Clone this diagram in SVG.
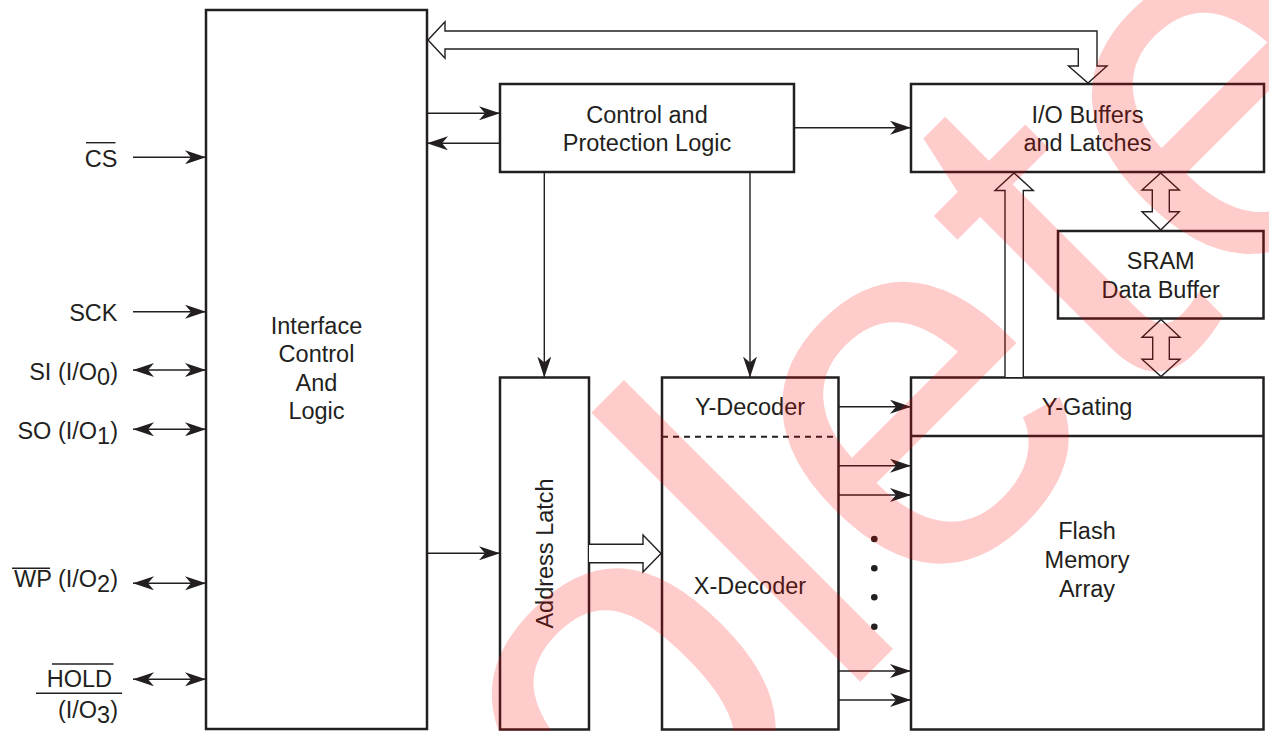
<svg xmlns="http://www.w3.org/2000/svg" width="1269" height="731" viewBox="0 0 1269 731">
<style>
.box{fill:#fff;stroke:#231f20;stroke-width:2.5}
.ln{fill:none;stroke:#231f20;stroke-width:1.4}
.arr{fill:none;stroke:#231f20;stroke-width:1.4;marker-end:url(#ah)}
.bi{fill:none;stroke:#231f20;stroke-width:1.4;marker-start:url(#ah);marker-end:url(#ah)}
.hol{fill:#fff;stroke:#231f20;stroke-width:1.4;stroke-linejoin:miter}
.t{font-family:"Liberation Sans",Arial,Helvetica,sans-serif;font-size:23.5px;fill:#231f20}
.c{text-anchor:middle}
.e{text-anchor:end}
.wm{font-family:"Liberation Sans",Arial,Helvetica,sans-serif;font-size:525px;fill:#ff0000;fill-opacity:0.2}
</style>
<defs>
<marker id="ah" viewBox="-21 -7 21 14" refX="0" refY="0" markerWidth="21" markerHeight="14" markerUnits="userSpaceOnUse" orient="auto-start-reverse">
<path d="M0,0 L-21,-7 L-15,0 L-21,7 Z" fill="#231f20"/>
</marker>
</defs>

<g id="interface">
<rect class="box" x="206" y="10" width="221" height="719"/>
<text class="t c" x="316.5" y="333.5">Interface</text>
<text class="t c" x="316.5" y="362">Control</text>
<text class="t c" x="316.5" y="390.5">And</text>
<text class="t c" x="316.5" y="419">Logic</text>
</g>

<g id="control">
<rect class="box" x="500" y="84" width="294" height="88"/>
<text class="t c" x="647" y="123">Control and</text>
<text class="t c" x="647" y="151">Protection Logic</text>
</g>

<g id="io-buffers">
<rect class="box" x="911" y="84" width="353" height="88"/>
<text class="t c" x="1087.5" y="123">I/O Buffers</text>
<text class="t c" x="1087.5" y="151">and Latches</text>
</g>

<g id="sram">
<rect class="box" x="1058" y="231" width="205.5" height="87.5"/>
<text class="t c" x="1160.7" y="268.5">SRAM</text>
<text class="t c" x="1160.7" y="297.5">Data Buffer</text>
</g>

<g id="address-latch">
<rect class="box" x="500" y="377.5" width="89" height="352"/>
<text class="t c" transform="translate(553,553.5) rotate(-90)" x="0" y="0">Address Latch</text>
</g>

<g id="decoder">
<rect class="box" x="662" y="377.5" width="176.5" height="352"/>
<line x1="662" y1="436.7" x2="838" y2="436.7" stroke="#231f20" stroke-width="2" stroke-dasharray="6 5"/>
<text class="t c" x="750" y="415">Y-Decoder</text>
<text class="t c" x="750" y="593.5">X-Decoder</text>
</g>

<g id="flash-array">
<rect class="box" x="911" y="377.5" width="352.5" height="352"/>
<line x1="911" y1="436" x2="1263.5" y2="436" stroke="#231f20" stroke-width="2.5"/>
<text class="t c" x="1087" y="415">Y-Gating</text>
<text class="t c" x="1087" y="538.5">Flash</text>
<text class="t c" x="1087" y="568">Memory</text>
<text class="t c" x="1087" y="597">Array</text>
</g>

<g id="pins">
<text class="t e" x="117.5" y="166.7">CS</text>
<line class="ln" x1="86" y1="142.7" x2="115.5" y2="142.7"/>
<text class="t e" x="117.5" y="320.7">SCK</text>
<text class="t e" x="118" y="379.5">SI (I/O<tspan dy="5">0</tspan><tspan dy="-5">)</tspan></text>
<text class="t e" x="118" y="438.5">SO (I/O<tspan dy="5">1</tspan><tspan dy="-5">)</tspan></text>
<text class="t e" x="118" y="587">WP (I/O<tspan dy="5">2</tspan><tspan dy="-5">)</tspan></text>
<line class="ln" x1="12" y1="568.3" x2="50" y2="568.3"/>
<text class="t e" x="112" y="687.3">HOLD</text>
<line class="ln" x1="52" y1="664" x2="113.5" y2="664"/>
<line class="ln" x1="36" y1="693.3" x2="122" y2="693.3"/>
<text class="t e" x="118" y="717.5">(I/O<tspan dy="5">3</tspan><tspan dy="-5">)</tspan></text>
</g>

<g id="connectors">
<line class="arr" x1="133" y1="157.3" x2="206" y2="157.3"/>
<line class="arr" x1="133" y1="311.7" x2="206" y2="311.7"/>
<line class="bi" x1="133" y1="370" x2="206" y2="370"/>
<line class="bi" x1="133" y1="429.3" x2="206" y2="429.3"/>
<line class="bi" x1="133" y1="583.3" x2="206" y2="583.3"/>
<line class="bi" x1="133" y1="679.3" x2="206" y2="679.3"/>

<line class="arr" x1="427" y1="113.3" x2="500" y2="113.3"/>
<line class="arr" x1="500" y1="143.3" x2="427" y2="143.3"/>
<line class="arr" x1="794" y1="127.7" x2="911" y2="127.7"/>
<line class="arr" x1="544.3" y1="172" x2="544.3" y2="377.5"/>
<line class="arr" x1="750" y1="172" x2="750" y2="377.5"/>
<line class="arr" x1="427" y1="553.3" x2="500" y2="553.3"/>

<line class="arr" x1="838" y1="406.7" x2="911" y2="406.7"/>
<line class="arr" x1="838" y1="465.7" x2="911" y2="465.7"/>
<line class="arr" x1="838" y1="495" x2="911" y2="495"/>
<line class="arr" x1="838" y1="671" x2="911" y2="671"/>
<line class="arr" x1="838" y1="700" x2="911" y2="700"/>

<g fill="#231f20">
<circle cx="874.3" cy="539" r="3.3"/>
<circle cx="874.3" cy="568.3" r="3.3"/>
<circle cx="874.3" cy="597.3" r="3.3"/>
<circle cx="874.3" cy="626.7" r="3.3"/>
</g>

<path class="hol" d="M428,40 L445,21.7 L445,31 L1097,31 L1097,66 L1107,66 L1088,83 L1068.5,66 L1078.3,66 L1078.3,49 L445,49 L445,58.3 Z"/>
<path class="hol" d="M589,544.3 L643,544.3 L643,535 L661,553.5 L643,572 L643,562.7 L589,562.7"/>
<path class="hol" d="M1005,377 L1005,190.5 L995,190.5 L1014,173 L1033.3,190.5 L1023.3,190.5 L1023.3,377"/>
<path class="hol" d="M1160.7,173 L1179.3,190 L1169.3,190 L1169.3,211.7 L1179.3,211.7 L1160.7,230 L1142,211.7 L1152.3,211.7 L1152.3,190 L1142,190 Z"/>
<path class="hol" d="M1161,319.5 L1180,337.3 L1169.3,337.3 L1169.3,359.3 L1180,359.3 L1161,376.5 L1142,359.3 L1152.7,359.3 L1152.7,337.3 L1142,337.3 Z"/>
</g>

<text class="wm" transform="translate(-52,1594) rotate(-45)" x="0" y="0">Obsolete</text>
</svg>
